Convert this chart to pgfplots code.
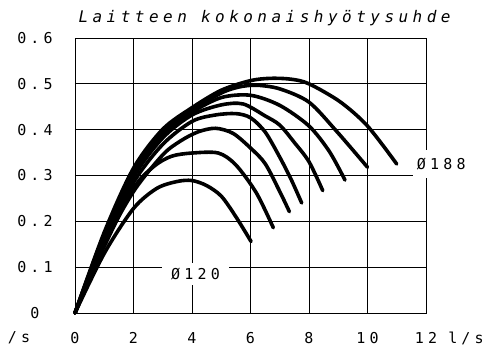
\documentclass[border=0pt]{standalone}
\usepackage{fontspec}
\usepackage{pgfplots}
\pgfplotsset{compat=1.18}
\newfontfamily\cad{DejaVu Sans Mono}[LetterSpace=28]
\pgfplotsset{curve/.style={black, line width=3.6bp, smooth, mark=none, line cap=round, line join=round}}

\begin{document}
\begin{tikzpicture}
\begin{axis}[
    scale only axis,
    width=351bp, height=275bp,
    xmin=0, xmax=12,
    ymin=0, ymax=0.6,
    xtick={0,2,4,6,8,10,12},
    ytick={0,0.1,0.2,0.3,0.4,0.5,0.6},
    xticklabels={0,2,4,6,8,10,12},
    yticklabels={0,0.1,0.2,0.3,0.4,0.5,0.6},
    grid=major,
    grid style={black, line width=0.8bp},
    axis line style={black, line width=0.8bp},
    major tick length=0pt,
    tick label style={font=\cad\fontsize{15bp}{15bp}\selectfont},
    xticklabel style={anchor=center, yshift=-25bp},
    yticklabel style={anchor=center, xshift=-40bp},
    clip=false,
]
% Ø120
\addplot[curve] coordinates {(0,0) (1,0.13) (2,0.228) (2.8,0.272) (3.5,0.287) (4,0.289) (4.5,0.278) (5,0.255) (5.5,0.21) (6.02,0.156)};
\addplot[curve] coordinates {(0,0) (1,0.145) (2,0.272) (2.7,0.32) (3.3,0.342) (4,0.349) (4.9,0.349) (5.5,0.323) (6.2,0.262) (6.78,0.186)};
\addplot[curve] coordinates {(0,0) (1,0.15) (2,0.265) (3,0.345) (3.6,0.375) (4.2,0.395) (4.8,0.403) (5.4,0.392) (6,0.36) (6.5,0.326) (7,0.265) (7.33,0.221)};
\addplot[curve] coordinates {(0,0) (1,0.158) (2,0.285) (3,0.368) (4,0.418) (4.8,0.432) (5.5,0.435) (6,0.426) (6.5,0.395) (7,0.34) (7.4,0.29) (7.75,0.24)};
\addplot[curve] coordinates {(0,0) (1,0.164) (2,0.297) (3,0.382) (4,0.432) (5,0.454) (5.75,0.456) (6.5,0.43) (7,0.41) (7.5,0.372) (8,0.33) (8.47,0.267)};
\addplot[curve] coordinates {(0,0) (1,0.168) (2,0.304) (3,0.39) (4,0.438) (5,0.47) (6,0.475) (7,0.453) (8,0.408) (8.7,0.352) (9.23,0.29)};
\addplot[curve] coordinates {(0,0) (1,0.172) (2,0.31) (3,0.395) (4,0.443) (5,0.48) (5.6,0.493) (6.2,0.497) (7,0.489) (8,0.46) (8.95,0.396) (10,0.318)};
% Ø188
\addplot[curve] coordinates {(0,0) (1,0.176) (2,0.316) (3,0.401) (4,0.448) (5,0.486) (6,0.507) (6.7,0.512) (7.4,0.51) (8,0.5) (9.06,0.461) (10,0.408) (11,0.325)};

\node[fill=white, inner xsep=9bp, inner ysep=5bp, font=\cad\fontsize{15bp}{15bp}\selectfont] at (axis cs:4.12,0.085) {Ø120};
\node[fill=white, inner xsep=4bp, inner ysep=8bp, font=\cad\fontsize{15bp}{15bp}\selectfont] at (axis cs:12.52,0.326) {Ø188};
\node[anchor=base west, font=\cad\itshape\fontsize{16bp}{16bp}\selectfont] at ([yshift=15bp]rel axis cs:0,1) {Laitteen kokonaishyötysuhde};
\node[font=\cad\fontsize{15bp}{15bp}\selectfont] at ([xshift=40bp,yshift=-25bp]rel axis cs:1,0) {l/s};
\node[font=\cad\fontsize{15bp}{15bp}\selectfont] at ([xshift=-56bp,yshift=-25bp]rel axis cs:0,0) {/s};
\coordinate (sw) at (rel axis cs:0,0);
\coordinate (ne) at (rel axis cs:1,1);
\end{axis}
\pgfresetboundingbox
\useasboundingbox ([shift={(-75bp,-37bp)}]sw) rectangle ([shift={(62bp,38bp)}]ne);
\end{tikzpicture}
\end{document}
